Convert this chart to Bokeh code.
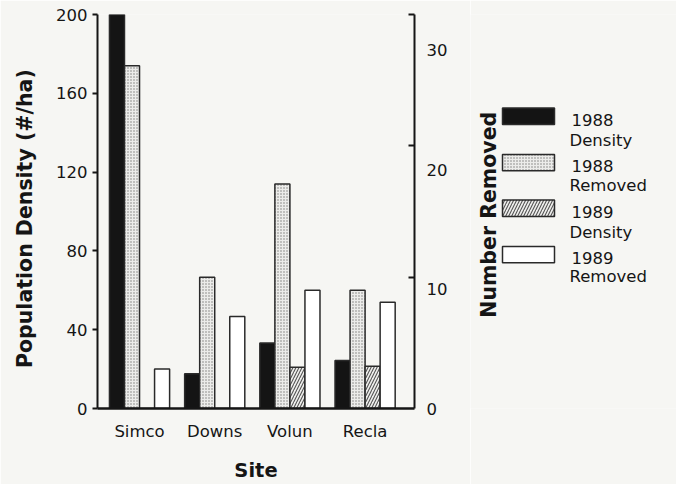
import math
from bokeh.plotting import figure
from bokeh.models import Range1d, LinearAxis, FixedTicker
from bokeh.layouts import row
from bokeh.embed import file_html
from bokeh.resources import INLINE
from bokeh.core.properties import value

# ---- data ----
sites = ["Simco", "Downs", "Volun", "Recla"]
density_1988 = [200, 17.6, 33.2, 24.4]
removed_1988 = [28.7, 11.0, 18.8, 9.9]
density_1989 = [0, 0, 21.0, 21.5]
removed_1989 = [3.3, 7.7, 9.9, 8.9]
left_ticks = [0, 40, 80, 120, 160, 200]
right_ticks = [0, 10, 20, 30]
right_minor = [11, 22, 33]
right_title = "Number Removed"
legend_line1 = ["1988", "1988", "1989", "1989"]
legend_line2 = ["Density", "Removed", "Density", "Removed"]

FONT = "DejaVu Sans"
BG = "#f6f6f3"
INK = "#151515"
TICK_FS = "16.5px"
LAB_FS = "20.5px"

MAIN_W = 470
p = figure(width=MAIN_W, height=484, output_backend="svg", toolbar_location=None,
           x_range=Range1d(-0.559, 3.657), y_range=Range1d(0, 200),
           min_border_left=97, min_border_right=MAIN_W - 97 - 317, min_border_top=14,
           min_border_bottom=73, background_fill_color=BG, border_fill_color=BG)
p.outline_line_color = None
p.grid.visible = False
p.extra_y_ranges = {"right": Range1d(0, 33)}

idx = list(range(len(sites)))
offsets = [-0.3, -0.1, 0.1, 0.3]
W = 0.2

def xs(k):
    return [i + offsets[k] for i in idx]

STIPPLE = dict(fill_color="#ececea", hatch_pattern="dot", hatch_color="#7a7a7a",
               hatch_scale=3, hatch_weight=1.1)
HATCH = dict(fill_color="#f0f0ee", hatch_pattern="right_diagonal_line", hatch_color="#555555",
             hatch_scale=6, hatch_weight=1.1)

common = dict(width=W, bottom=0, line_color="#2a2a2a", line_width=1.5)
p.vbar(x=xs(0), top=density_1988, fill_color="#141414", **common)
p.vbar(x=xs(1), top=removed_1988, y_range_name="right", **STIPPLE, **common)
p.vbar(x=xs(2), top=density_1989, **HATCH, **common)
p.vbar(x=xs(3), top=removed_1989, fill_color="#ffffff", y_range_name="right", **common)

# x axis
xa = p.xaxis[0]
xa.ticker = FixedTicker(ticks=idx)
xa.major_label_overrides = {i: s for i, s in zip(idx, sites)}
xa.major_tick_line_color = None
xa.major_tick_out = 0
xa.major_tick_in = 0
xa.minor_tick_line_color = None
xa.axis_line_width = 2.5
xa.axis_line_color = INK
xa.major_label_standoff = 13
xa.major_label_text_font = FONT
xa.major_label_text_font_size = TICK_FS
xa.major_label_text_color = INK
xa.axis_label = "Site"
xa.axis_label_text_font = FONT
xa.axis_label_text_font_style = "bold"
xa.axis_label_text_font_size = "19.5px"
xa.axis_label_text_color = INK
xa.axis_label_standoff = 15

# left axis
ya = p.yaxis[0]
ya.ticker = FixedTicker(ticks=left_ticks)
ya.axis_line_width = 2
ya.axis_line_color = INK
ya.major_tick_line_width = 2
ya.major_tick_line_color = INK
ya.major_tick_out = 5
ya.major_tick_in = 0
ya.minor_tick_line_color = None
ya.major_label_standoff = 5
ya.major_label_text_font = FONT
ya.major_label_text_font_size = TICK_FS
ya.major_label_text_color = INK
ya.axis_label = "Population  Density  (#/ha)"
ya.axis_label_text_font = FONT
ya.axis_label_text_font_style = "bold"
ya.axis_label_text_font_size = LAB_FS
ya.axis_label_text_color = INK
ya.axis_label_standoff = 16

# right axis
ra = LinearAxis(y_range_name="right", ticker=FixedTicker(ticks=right_ticks, minor_ticks=right_minor))
ra.axis_line_width = 2
ra.axis_line_color = INK
ra.major_tick_line_color = None
ra.major_tick_out = 0
ra.major_tick_in = 0
ra.minor_tick_line_color = INK
ra.minor_tick_line_width = 2
ra.minor_tick_in = 6
ra.minor_tick_out = 0
ra.major_label_standoff = 12
ra.major_label_text_font = FONT
ra.major_label_text_font_size = TICK_FS
ra.major_label_text_color = INK
p.add_layout(ra, "right")

# ---- side panel: right-axis title + legend ----
LEG_W = 676 - MAIN_W
leg = figure(width=LEG_W, height=484, output_backend="svg", toolbar_location=None,
             x_range=Range1d(MAIN_W, 676), y_range=Range1d(484, 0),
             x_axis_location=None, y_axis_location=None,
             min_border=0, background_fill_color=BG, border_fill_color=BG)
leg.outline_line_color = None
leg.grid.visible = False

leg.text(x=[488], y=[246], text=[right_title], angle=math.pi / 2, text_font=value(FONT),
         text_font_style="bold", text_font_size=LAB_FS, text_color=INK,
         text_align="center", text_baseline="middle")

tops = [115, 172, 228, 285]
sw_h = 20
styles = [dict(fill_color="#141414"), STIPPLE, HATCH, dict(fill_color="#ffffff")]
for t, st in zip(tops, styles):
    leg.quad(left=502, right=554, top=t, bottom=t + sw_h, line_color="#2a2a2a", line_width=1.5, **st)

y1 = [129, 186, 242, 299]
y2 = [155, 210, 268, 322]
leg.text(x=[571] * 4, y=y1, text=legend_line1, text_font=value(FONT), text_font_size=TICK_FS,
         text_color=INK, text_baseline="middle", text_align="left")
leg.text(x=[569] * 4, y=y2, text=legend_line2, text_font=value(FONT), text_font_size=TICK_FS,
         text_color=INK, text_baseline="middle", text_align="left")

layout = row(p, leg)
open("out.html", "w").write(file_html(layout, INLINE))
